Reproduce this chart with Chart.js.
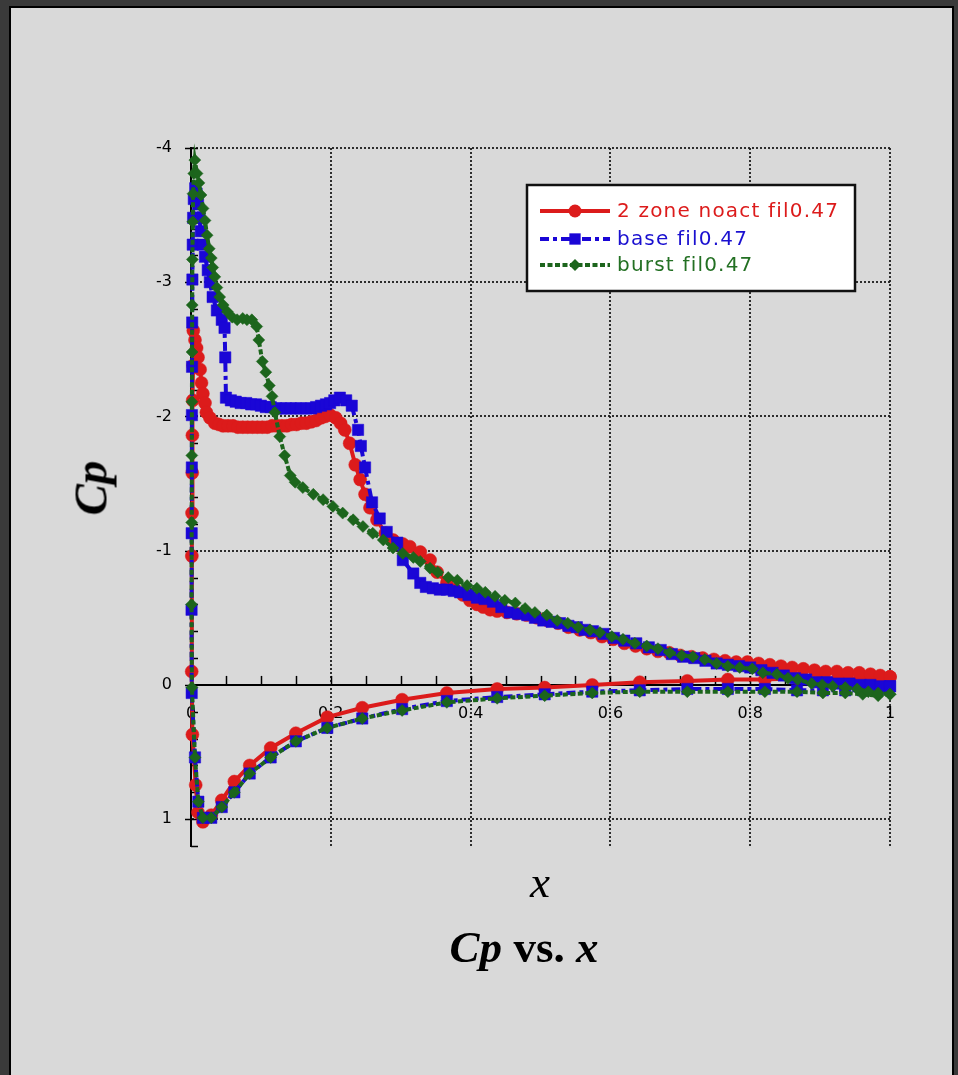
<!DOCTYPE html>
<html><head><meta charset="utf-8">
<script src="https://cdn.jsdelivr.net/npm/chart.js@4.4.1/dist/chart.umd.min.js"></script>
<style>
html,body{margin:0;padding:0;background:#3a3a3a;width:958px;height:1075px;overflow:hidden;}
#panel{position:absolute;left:9px;top:6px;width:941px;height:1080px;background:#d9d9d9;border:2px solid #000;border-bottom:none;}
#c{position:absolute;left:0;top:0;width:958px;height:1075px;}
.lbl{position:absolute;font-family:"Liberation Serif","Times New Roman",serif;color:#000;white-space:nowrap;line-height:1;}
</style></head><body>
<div id="panel"></div>
<canvas id="c" width="958" height="1075"></canvas>
<div class="lbl" style="left:91px;top:488px;font-size:47px;font-style:italic;font-weight:bold;transform:translate(-50%,-50%) rotate(-90deg);">Cp</div>
<div class="lbl" style="left:540px;top:860px;font-size:45px;font-style:italic;transform:translateX(-50%);">x</div>
<div class="lbl" style="left:524px;top:925px;font-size:45px;font-weight:bold;transform:translateX(-50%);"><i>Cp</i> vs. <i>x</i></div>
<script>
// ---- data: [x, Cp] pairs, lower surface runs trailing edge -> leading edge, upper runs leading edge -> trailing edge
const seriesNames = ["2 zone noact fil0.47", "base fil0.47", "burst fil0.47"];
const xTicks = [0, 0.2, 0.4, 0.6, 0.8, 1];
const yTicks = [-4, -3, -2, -1, 0, 1];

const redLower = [[1.0,-0.06],[0.983,-0.05],[0.961,-0.05],[0.936,-0.05],[0.904,-0.05],[0.867,-0.05],[0.821,-0.04],[0.768,-0.04],[0.710,-0.03],[0.642,-0.02],[0.574,0.00],[0.506,0.02],[0.438,0.03],[0.366,0.06],[0.302,0.11],[0.245,0.17],[0.195,0.24],[0.150,0.36],[0.114,0.47],[0.084,0.60],[0.062,0.72],[0.044,0.86],[0.029,0.97],[0.017,1.02],[0.010,0.95],[0.0067,0.745],[0.002,0.37],[0.001,-0.10]];
const redUpper = [[0.0012,-0.96],[0.0015,-1.28],[0.0018,-1.58],[0.002,-1.86],[0.0025,-2.12],[0.003,-2.38],[0.0033,-2.64],[0.0057,-2.57],[0.008,-2.51],[0.010,-2.44],[0.013,-2.35],[0.015,-2.25],[0.017,-2.17],[0.020,-2.10],[0.022,-2.03],[0.027,-1.99],[0.034,-1.95],[0.040,-1.94],[0.046,-1.93],[0.053,-1.93],[0.060,-1.93],[0.067,-1.92],[0.074,-1.92],[0.081,-1.92],[0.088,-1.92],[0.095,-1.92],[0.102,-1.92],[0.109,-1.92],[0.116,-1.93],[0.123,-1.93],[0.130,-1.93],[0.137,-1.93],[0.144,-1.94],[0.151,-1.94],[0.158,-1.95],[0.165,-1.95],[0.172,-1.96],[0.179,-1.97],[0.186,-1.99],[0.192,-2.00],[0.199,-2.01],[0.207,-1.99],[0.214,-1.95],[0.220,-1.90],[0.227,-1.80],[0.235,-1.64],[0.242,-1.53],[0.249,-1.42],[0.256,-1.32],[0.266,-1.23],[0.278,-1.13],[0.289,-1.08],[0.303,-1.05],[0.313,-1.03],[0.328,-0.99],[0.342,-0.93],[0.352,-0.84],[0.366,-0.76],[0.378,-0.71],[0.389,-0.67],[0.399,-0.63],[0.409,-0.60],[0.418,-0.58],[0.428,-0.56],[0.438,-0.55],[0.452,-0.54],[0.466,-0.53],[0.480,-0.52],[0.495,-0.50],[0.510,-0.48],[0.525,-0.46],[0.540,-0.43],[0.556,-0.41],[0.572,-0.39],[0.588,-0.36],[0.604,-0.34],[0.620,-0.31],[0.636,-0.29],[0.652,-0.27],[0.668,-0.25],[0.684,-0.24],[0.700,-0.22],[0.716,-0.21],[0.732,-0.20],[0.748,-0.19],[0.764,-0.18],[0.780,-0.17],[0.796,-0.17],[0.812,-0.16],[0.828,-0.15],[0.844,-0.14],[0.860,-0.13],[0.876,-0.12],[0.892,-0.11],[0.908,-0.10],[0.924,-0.10],[0.940,-0.09],[0.956,-0.09],[0.972,-0.08],[0.986,-0.07],[1.000,-0.06]];

const blueLower = [[1.0,0.01],[0.983,0.03],[0.961,0.04],[0.936,0.04],[0.904,0.04],[0.867,0.04],[0.821,0.03],[0.768,0.03],[0.710,0.03],[0.642,0.04],[0.574,0.05],[0.506,0.07],[0.438,0.09],[0.366,0.12],[0.302,0.18],[0.245,0.25],[0.195,0.32],[0.150,0.42],[0.114,0.54],[0.084,0.66],[0.062,0.80],[0.044,0.91],[0.029,0.99],[0.017,0.99],[0.0105,0.87],[0.0057,0.54],[0.001,0.06]];
const blueUpper = [[0.0008,-0.56],[0.001,-1.13],[0.0012,-1.62],[0.0013,-2.01],[0.0015,-2.37],[0.0017,-2.70],[0.002,-3.02],[0.0025,-3.28],[0.003,-3.48],[0.004,-3.62],[0.006,-3.70],[0.008,-3.66],[0.010,-3.58],[0.012,-3.48],[0.014,-3.38],[0.017,-3.28],[0.020,-3.19],[0.024,-3.09],[0.027,-3.00],[0.031,-2.89],[0.037,-2.79],[0.044,-2.72],[0.048,-2.66],[0.049,-2.44],[0.050,-2.14],[0.057,-2.12],[0.064,-2.11],[0.071,-2.10],[0.079,-2.10],[0.086,-2.09],[0.093,-2.09],[0.100,-2.08],[0.107,-2.07],[0.114,-2.07],[0.122,-2.06],[0.129,-2.06],[0.136,-2.06],[0.143,-2.06],[0.150,-2.06],[0.157,-2.06],[0.165,-2.06],[0.172,-2.06],[0.179,-2.07],[0.186,-2.08],[0.193,-2.09],[0.199,-2.10],[0.205,-2.12],[0.213,-2.14],[0.222,-2.12],[0.230,-2.08],[0.239,-1.90],[0.243,-1.78],[0.249,-1.62],[0.259,-1.36],[0.270,-1.24],[0.280,-1.14],[0.295,-1.06],[0.303,-0.93],[0.318,-0.83],[0.328,-0.76],[0.336,-0.73],[0.346,-0.72],[0.356,-0.71],[0.366,-0.71],[0.376,-0.70],[0.385,-0.69],[0.397,-0.67],[0.409,-0.65],[0.420,-0.64],[0.432,-0.62],[0.444,-0.58],[0.456,-0.54],[0.468,-0.53],[0.481,-0.52],[0.492,-0.50],[0.504,-0.48],[0.516,-0.47],[0.528,-0.46],[0.540,-0.44],[0.552,-0.43],[0.563,-0.41],[0.575,-0.40],[0.590,-0.38],[0.605,-0.35],[0.620,-0.33],[0.637,-0.31],[0.655,-0.28],[0.672,-0.26],[0.688,-0.23],[0.704,-0.21],[0.720,-0.20],[0.736,-0.18],[0.752,-0.16],[0.768,-0.15],[0.784,-0.14],[0.800,-0.13],[0.816,-0.11],[0.832,-0.09],[0.848,-0.07],[0.864,-0.05],[0.880,-0.04],[0.895,-0.02],[0.910,-0.02],[0.926,-0.01],[0.942,-0.01],[0.958,0.00],[0.972,0.00],[0.986,0.01],[1.000,0.01]];

const greenLower = [[1.0,0.07],[0.983,0.08],[0.961,0.07],[0.936,0.06],[0.904,0.06],[0.867,0.05],[0.821,0.05],[0.768,0.05],[0.710,0.05],[0.642,0.05],[0.574,0.06],[0.506,0.08],[0.438,0.10],[0.366,0.13],[0.302,0.19],[0.245,0.25],[0.195,0.32],[0.150,0.42],[0.114,0.54],[0.084,0.66],[0.062,0.80],[0.044,0.91],[0.029,0.99],[0.017,0.99],[0.0105,0.87],[0.0057,0.54],[0.0013,0.02]];
const greenUpper = [[0.0008,-0.60],[0.001,-1.21],[0.0012,-1.71],[0.0013,-2.11],[0.0015,-2.48],[0.0017,-2.83],[0.002,-3.17],[0.0025,-3.45],[0.003,-3.66],[0.004,-3.81],[0.0055,-3.91],[0.0086,-3.81],[0.0114,-3.74],[0.0143,-3.65],[0.0172,-3.55],[0.020,-3.46],[0.023,-3.35],[0.026,-3.25],[0.029,-3.18],[0.031,-3.11],[0.034,-3.04],[0.037,-2.96],[0.041,-2.89],[0.046,-2.83],[0.052,-2.78],[0.059,-2.74],[0.066,-2.72],[0.074,-2.73],[0.080,-2.72],[0.087,-2.72],[0.094,-2.67],[0.097,-2.57],[0.102,-2.41],[0.107,-2.33],[0.112,-2.23],[0.116,-2.15],[0.120,-2.03],[0.127,-1.85],[0.134,-1.71],[0.142,-1.56],[0.149,-1.51],[0.160,-1.47],[0.175,-1.42],[0.189,-1.38],[0.203,-1.33],[0.217,-1.28],[0.232,-1.23],[0.246,-1.18],[0.260,-1.13],[0.275,-1.08],[0.289,-1.02],[0.303,-0.98],[0.318,-0.95],[0.328,-0.92],[0.342,-0.87],[0.353,-0.84],[0.368,-0.80],[0.381,-0.78],[0.395,-0.74],[0.409,-0.72],[0.421,-0.69],[0.435,-0.66],[0.449,-0.63],[0.464,-0.61],[0.478,-0.57],[0.492,-0.54],[0.509,-0.52],[0.524,-0.48],[0.539,-0.46],[0.554,-0.43],[0.571,-0.41],[0.585,-0.39],[0.602,-0.36],[0.618,-0.34],[0.635,-0.31],[0.652,-0.29],[0.668,-0.27],[0.685,-0.24],[0.702,-0.22],[0.718,-0.21],[0.735,-0.19],[0.752,-0.16],[0.768,-0.14],[0.785,-0.13],[0.803,-0.12],[0.818,-0.09],[0.838,-0.08],[0.854,-0.05],[0.868,-0.04],[0.888,-0.01],[0.903,0.00],[0.918,0.01],[0.936,0.02],[0.953,0.03],[0.969,0.05],[0.983,0.06],[1.0,0.07]];

// ---- styling
const RED = '#dc1b1b', BLUE = '#1a06d6', GREEN = '#1c651c';
const toPts = (lower, upper) => lower.concat(upper).map(p => ({x: p[0], y: p[1]}));

const styles = [
  {color: RED, dash: [], pointStyle: 'circle', radius: 6.5, textColor: '#dc1b1b'},
  {color: BLUE, dash: [9,4,4,4], pointStyle: 'rect', radius: 8, textColor: '#1a10d0'},
  {color: GREEN, dash: [5,2.5], pointStyle: 'rectRot', radius: 6, textColor: '#237023'}
];
const allData = [toPts(redLower, redUpper), toPts(blueLower, blueUpper), toPts(greenLower, greenUpper)];

const datasets = allData.map((d, i) => ({
  label: seriesNames[i], data: d, showLine: true, tension: 0, clip: false,
  borderColor: styles[i].color, backgroundColor: styles[i].color, borderWidth: 4, borderDash: styles[i].dash,
  pointStyle: styles[i].pointStyle, pointRadius: styles[i].radius, pointBackgroundColor: styles[i].color,
  pointBorderColor: styles[i].color, pointBorderWidth: 0.5, order: 2 - i
}));

const minorTicks = {
  id: 'minorTicks',
  beforeDatasetsDraw(chart) {
    const {ctx, scales: {x, y}} = chart;
    ctx.save(); ctx.strokeStyle = '#000'; ctx.lineWidth = 1.5; ctx.setLineDash([]);
    const x0 = x.getPixelForValue(0), y0 = y.getPixelForValue(0);
    for (let i = 0; i <= 26; i++) {
      const py = Math.round(y.getPixelForValue(-4 + i * 0.2)) + 0.5;
      const major = i % 5 === 0;
      ctx.beginPath(); ctx.moveTo(x0 - (major ? 6 : 0), py); ctx.lineTo(x0 + 7, py); ctx.stroke();
    }
    for (let i = 1; i <= 20; i++) {
      const px = Math.round(x.getPixelForValue(i * 0.05)) + 0.5;
      ctx.beginPath(); ctx.moveTo(px, y0); ctx.lineTo(px, y0 - 9); ctx.stroke();
    }
    ctx.restore();
  }
};

const boxLegend = {
  id: 'boxLegend',
  afterDraw(chart) {
    const ctx = chart.ctx;
    const bx = 527, by = 185, bw = 328, bh = 106;
    ctx.save();
    ctx.fillStyle = '#fff'; ctx.fillRect(bx, by, bw, bh);
    ctx.strokeStyle = '#111'; ctx.lineWidth = 2.5; ctx.setLineDash([]); ctx.strokeRect(bx, by, bw, bh);
    const rows = [211, 239, 265];
    rows.forEach((ry, i) => {
      const s = styles[i];
      ctx.strokeStyle = s.color; ctx.lineWidth = 4; ctx.setLineDash(s.dash);
      ctx.beginPath(); ctx.moveTo(540, ry); ctx.lineTo(610, ry); ctx.stroke();
      ctx.setLineDash([]);
      ctx.fillStyle = s.color;
      ctx.beginPath();
      if (s.pointStyle === 'circle') ctx.arc(575, ry, s.radius, 0, Math.PI * 2);
      else if (s.pointStyle === 'rect') { const h = s.radius * Math.SQRT1_2; ctx.rect(575 - h, ry - h, 2 * h, 2 * h); }
      else { ctx.moveTo(575 - s.radius, ry); ctx.lineTo(575, ry - s.radius); ctx.lineTo(575 + s.radius, ry); ctx.lineTo(575, ry + s.radius); ctx.closePath(); }
      ctx.fill();
      ctx.fillStyle = s.textColor;
      ctx.font = '20px "DejaVu Sans"';
      ctx.letterSpacing = '1.2px';
      ctx.textBaseline = 'middle'; ctx.textAlign = 'left';
      ctx.fillText(seriesNames[i], 617, ry + 1);
    });
    ctx.restore();
  }
};

const tickFont = {family: 'DejaVu Sans', size: 16};
const fmt = v => String(Math.round(v * 10) / 10);
new Chart(document.getElementById('c'), {
  type: 'scatter',
  data: {datasets},
  plugins: [minorTicks, boxLegend],
  options: {
    responsive: false, animation: false, devicePixelRatio: 1,
    layout: {padding: {left: 141, top: 148, right: 68, bottom: 229}},
    plugins: {legend: {display: false}, tooltip: {enabled: false}},
    scales: {
      x: {
        type: 'linear', position: {y: 0}, min: xTicks[0], max: xTicks[xTicks.length - 1],
        afterFit(s) { s.height = 0; },
        afterBuildTicks(s) { s.ticks = xTicks.map(v => ({value: v})); },
        ticks: {padding: 19, color: '#000', font: tickFont, maxRotation: 0, autoSkip: false, callback: fmt},
        grid: {color: 'rgba(25,25,25,0.9)', lineWidth: 2, drawTicks: false},
        border: {display: true, color: '#000', width: 2, dash: [2, 2]}
      },
      y: {
        type: 'linear', position: 'left', reverse: true, min: -4, max: 1.2,
        afterFit(s) { s.width = 50; },
        afterBuildTicks(s) { s.ticks = yTicks.map(v => ({value: v})); },
        ticks: {padding: 19, color: '#000', font: tickFont, callback: fmt},
        grid: {color: 'rgba(25,25,25,0.9)', lineWidth: 2, drawTicks: false},
        border: {display: true, color: '#000', width: 2, dash: [2, 2]}
      }
    }
  }
});
</script>
</body></html>
